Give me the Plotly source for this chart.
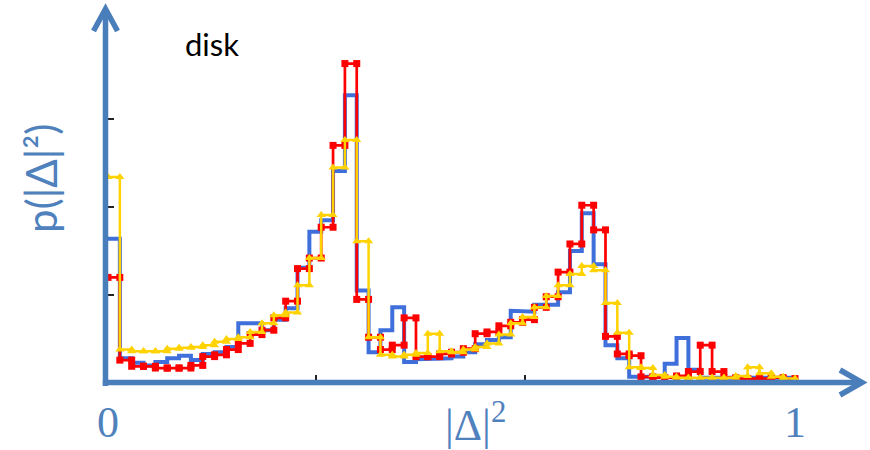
import numpy as np
import plotly.graph_objects as go

# Histogram bins on |Delta|^2 in [0, 1]
n_bins = 58
bin_width = 1.0 / n_bins

# p(|Delta|^2) per bin for the three samples
p_blue = [1.64, 0.28, 0.23, 0.20, 0.24, 0.28, 0.31, 0.26, 0.33, 0.35,
          0.41, 0.68, 0.68, 0.60, 0.72, 0.85, 1.31, 1.72, 1.85, 2.41,
          3.27, 1.05, 0.35, 0.60, 0.86, 0.24, 0.27, 0.28, 0.28, 0.30,
          0.35, 0.44, 0.49, 0.52, 0.82, 0.81, 0.89, 0.89, 1.03, 1.50,
          1.93, 1.35, 0.43, 0.28, 0.07, 0.07, 0.07, 0.22, 0.51, 0.15,
          0.06, 0.06, 0.06, 0.06, 0.06, 0.06, 0.06, 0.06]

p_red = [1.20, 0.26, 0.19, 0.19, 0.17, 0.17, 0.17, 0.20, 0.30, 0.32,
         0.38, 0.45, 0.55, 0.60, 0.74, 0.93, 1.30, 1.42, 1.77, 2.70,
         3.63, 0.95, 0.52, 0.38, 0.43, 0.74, 0.30, 0.30, 0.33, 0.35,
         0.39, 0.56, 0.58, 0.65, 0.69, 0.72, 0.86, 0.98, 1.26, 1.58,
         2.02, 1.74, 0.53, 0.33, 0.31, 0.07, 0.06, 0.06, 0.08, 0.13,
         0.43, 0.13, 0.06, 0.05, 0.05, 0.05, 0.06, 0.05]

p_yellow = [2.34, 0.38, 0.36, 0.36, 0.36, 0.39, 0.40, 0.41, 0.43, 0.47,
            0.50, 0.52, 0.58, 0.68, 0.77, 0.80, 1.11, 1.42, 1.91, 2.45,
            2.76, 1.61, 0.52, 0.32, 0.30, 0.32, 0.34, 0.56, 0.36, 0.35,
            0.38, 0.41, 0.45, 0.55, 0.68, 0.75, 0.86, 0.99, 1.11, 1.24,
            1.33, 1.28, 0.91, 0.57, 0.18, 0.17, 0.09, 0.07, 0.06, 0.06,
            0.06, 0.06, 0.06, 0.08, 0.18, 0.11, 0.07, 0.05]

x_ticks = [0.303, 0.607]
y_ticks = [1, 2, 3]
x_tick_labels = ["0", "|Δ|<sup>2</sup>", "1"]
x_label_pos = [0.0, 0.535, 1.0]

AXIS_BLUE = "#4A7EBB"
TEXT_BLUE = "#4F81BD"


def step_xy(values):
    """Corner points of a step histogram: both ends of each bin top."""
    edges = np.arange(len(values) + 1) * bin_width
    xs = np.repeat(edges, 2)[1:-1]
    ys = np.repeat(np.asarray(values, dtype=float), 2)
    return xs, ys


fig = go.Figure()

bx, by = step_xy(p_blue)
fig.add_trace(go.Scatter(x=bx, y=by, mode="lines",
                         line=dict(color="#3F6FDB", width=4),
                         showlegend=False, hoverinfo="skip"))

rx, ry = step_xy(p_red)
fig.add_trace(go.Scatter(x=rx, y=ry, mode="lines+markers",
                         line=dict(color="#FF0000", width=2.7),
                         marker=dict(symbol="square", size=7, color="#FF0000"),
                         showlegend=False, hoverinfo="skip"))

yx, yy = step_xy(p_yellow)
fig.add_trace(go.Scatter(x=yx, y=yy, mode="lines+markers",
                         line=dict(color="#FFD200", width=2.5),
                         marker=dict(symbol="triangle-up", size=8, color="#FFD200"),
                         showlegend=False, hoverinfo="skip"))

# Plot area: left edge at the vertical axis, bottom edge at the horizontal axis
W, H = 870, 450
L, B = 105, 67
px_per_x = 687.0
px_per_y = 88.0
x0_px = 108.0
plot_w = W - L
plot_h = H - B

x_range = [(L - x0_px) / px_per_x, (W - x0_px) / px_per_x]
y_range = [0, plot_h / px_per_y]


def paper_x(px):
    return (px - L) / plot_w


def paper_y(py):
    return (plot_h - py) / plot_h


# Arrow-headed axes
shapes = []
ax_line = dict(color=AXIS_BLUE, width=5.5)
# vertical axis with arrow head
shapes.append(dict(type="line", xref="paper", yref="paper",
                   x0=paper_x(105.5), x1=paper_x(105.5),
                   y0=paper_y(386), y1=paper_y(10), line=ax_line, layer="above"))
shapes.append(dict(type="path", xref="paper", yref="paper",
                   path="M {a},{b} L {c},{d} L {e},{f}".format(
                       a=paper_x(93.5), b=paper_y(31),
                       c=paper_x(105.5), d=paper_y(9),
                       e=paper_x(117.5), f=paper_y(31)),
                   line=ax_line, layer="above"))
# horizontal axis with arrow head
shapes.append(dict(type="line", xref="paper", yref="paper",
                   x0=paper_x(102.8), x1=paper_x(861),
                   y0=paper_y(382.5), y1=paper_y(382.5), line=ax_line, layer="above"))
shapes.append(dict(type="path", xref="paper", yref="paper",
                   path="M {a},{b} L {c},{d} L {e},{f}".format(
                       a=paper_x(840), b=paper_y(370),
                       c=paper_x(862), d=paper_y(382.5),
                       e=paper_x(840), f=paper_y(395)),
                   line=ax_line, layer="above"))

annotations = []
for lab, xv in zip(x_tick_labels, x_label_pos):
    annotations.append(dict(x=xv, y=paper_y(422), xref="x", yref="paper",
                            text=lab, showarrow=False, borderpad=0,
                            xanchor="center", yanchor="middle",
                            font=dict(family="Liberation Serif", size=44,
                                      color=TEXT_BLUE)))
annotations.append(dict(x=paper_x(41), y=paper_y(178), xref="paper", yref="paper",
                        text="p(|Δ|²)", textangle=-90, showarrow=False,
                        xanchor="center", yanchor="middle",
                        font=dict(family="Lato", size=42, color=TEXT_BLUE)))
annotations.append(dict(x=paper_x(212), y=paper_y(44), xref="paper", yref="paper",
                        text="disk", showarrow=False,
                        xanchor="center", yanchor="middle",
                        font=dict(family="Lato", size=31, color="#000000")))

fig.update_layout(
    width=W, height=H,
    margin=dict(l=L, r=0, t=0, b=B, pad=0),
    paper_bgcolor="white", plot_bgcolor="white",
    shapes=shapes, annotations=annotations,
    xaxis=dict(range=x_range, showgrid=False, zeroline=False, showline=False,
               tickvals=x_ticks, ticks="inside", ticklen=8, tickwidth=1.5,
               tickcolor="#222222", showticklabels=False, fixedrange=True),
    yaxis=dict(range=y_range, showgrid=False, zeroline=False, showline=False,
               tickvals=y_ticks, ticks="inside", ticklen=9, tickwidth=1.5,
               tickcolor="#222222", showticklabels=False, fixedrange=True),
)

fig.write_html("out.html")
